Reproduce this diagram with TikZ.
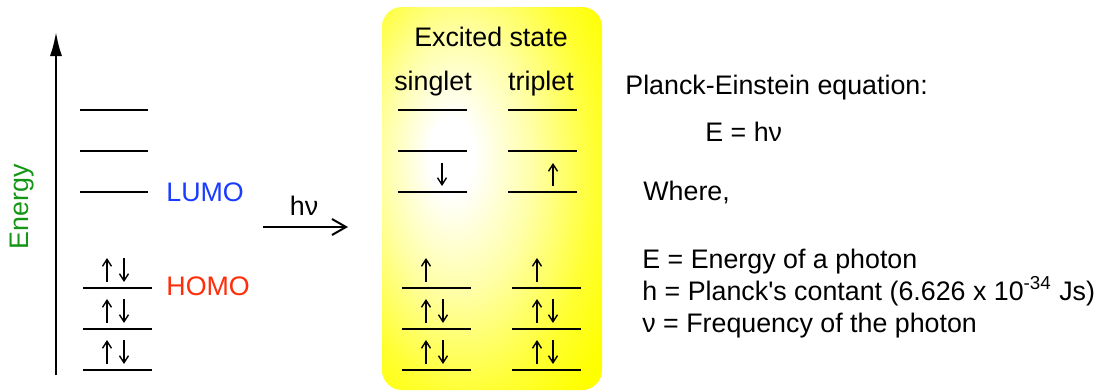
\documentclass[tikz,border=0pt]{standalone}
\usepackage{fontspec}
\setmainfont{Liberation Sans}
\usetikzlibrary{arrows.meta}
\definecolor{lumoblue}{RGB}{25,60,255}
\definecolor{homored}{RGB}{255,45,10}
\definecolor{energygreen}{RGB}{20,150,20}
\pgfdeclareradialshading{excitedglow}{\pgfpoint{-10bp}{6bp}}{color(0bp)=(white); color(5bp)=(white); color(17bp)=(yellow!35!white); color(29bp)=(yellow!80!white); color(37bp)=(yellow); color(70bp)=(yellow)}
\tikzset{
  level/.style={line width=1pt},
  spin/.style={line width=0.7pt, -{Straight Barb[length=3.5pt,width=4.5pt]}},
}
\begin{document}
\begin{tikzpicture}[x=0.5pt, y=-0.5pt, every node/.style={font=\fontsize{13.4}{16}\selectfont, inner sep=0pt}]
  \useasboundingbox (0,0) rectangle (1096,391);
  % excited state box
  \shade[rounded corners=10pt, shading=excitedglow] (382,7) rectangle (602,390);
  % energy axis
  \coordinate (axisbot) at (56,375);
  \coordinate (axistop) at (56,32);
  \draw[line width=1pt, -{Latex[length=12pt,width=6pt]}] (axisbot) -- (axistop);
  \node[rotate=90, text=energygreen] (energy) at (22,207) {Energy};
  % ground state
  \foreach \y in {110,151,192} \draw[level] (80,\y) -- (148,\y);
  \foreach \y in {288,329,370} {
    \draw[level] (83,\y) -- (152,\y);
    \draw[spin] (107,\y-6) -- (107,\y-30);
    \draw[spin] (124,\y-30) -- (124,\y-6);
  }
  \node[anchor=base west, text=lumoblue] (lumo) at (166,201) {LUMO};
  \node[anchor=base west, text=homored] (homo) at (166,295) {HOMO};
  % excitation
  \coordinate (hvstart) at (263,227);
  \coordinate (hvend) at (348,227);
  \draw[line width=1pt, -{Straight Barb[length=7pt,width=8pt]}] (hvstart) -- (hvend);
  \node[anchor=base] (hv) at (304,215) {hν};
  % excited state
  \node[anchor=base] (excited) at (491,46) {Excited state};
  \node[anchor=base] (singlet) at (433,90) {singlet};
  \node[anchor=base] (triplet) at (541,90) {triplet};
  \foreach \y in {110,151,192} {
    \draw[level] (398,\y) -- (467,\y);
    \draw[level] (508,\y) -- (577,\y);
  }
  \foreach \y in {288,329,370} {
    \draw[level] (402,\y) -- (471,\y);
    \draw[level] (512,\y) -- (581,\y);
  }
  \draw[spin] (442,163) -- (442,186);
  \draw[spin] (553,186) -- (553,163);
  \draw[spin] (426,282) -- (426,258);
  \draw[spin] (537,282) -- (537,258);
  \foreach \y in {329,370} {
    \draw[spin] (426,\y-6) -- (426,\y-30);
    \draw[spin] (443,\y-30) -- (443,\y-6);
    \draw[spin] (537,\y-6) -- (537,\y-30);
    \draw[spin] (553,\y-30) -- (553,\y-6);
  }
  % equation
  \node[anchor=base west] (planck) at (625,94) {Planck-Einstein equation:};
  \node[anchor=base west] (eq) at (705,141) {E = hν};
  \node[anchor=base west] (where) at (643,200) {Where,};
  \node[anchor=base west] (edef) at (642,268) {E = Energy of a photon};
  \node[anchor=base west] (hdef) at (642,300) {h = Planck\textquotesingle s contant (6.626 x 10\textsuperscript{-34} Js)};
  \node[anchor=base west] (nudef) at (642,332) {ν = Frequency of the photon};
\end{tikzpicture}
\end{document}
